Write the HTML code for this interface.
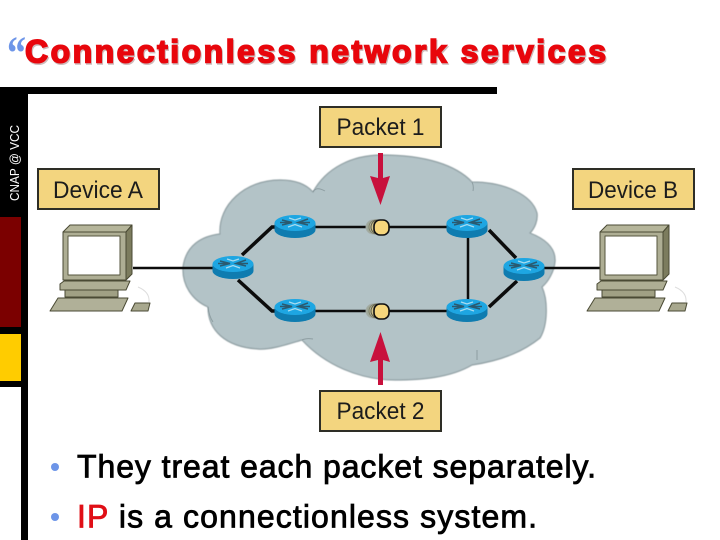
<!DOCTYPE html>
<html><head><meta charset="utf-8"><style>
html,body{margin:0;padding:0;background:#fff}
svg{display:block}
</style></head><body>
<svg width="720" height="540" viewBox="0 0 720 540" xmlns="http://www.w3.org/2000/svg" font-family="'Liberation Sans',sans-serif">
<defs>
<filter id="b" x="-5%" y="-5%" width="110%" height="110%"><feGaussianBlur stdDeviation="0.4"/></filter>
<g id="pc" stroke="#4a4a34" stroke-width="1" stroke-linejoin="round">
<path d="M63 232L70 225H132L126 232Z" fill="#b5b59a"/>
<path d="M126 232L132 225V274L126 280Z" fill="#7c7c5e"/>
<rect x="63" y="232" width="63" height="48" fill="#aeae94"/>
<rect x="68" y="236" width="52" height="39" fill="#fff" stroke="#55553e"/>
<path d="M60 284L64 281H130L126 290H60Z" fill="#aeae94"/>
<rect x="65" y="290" width="53" height="7" fill="#a0a084"/>
<path d="M50 311L58 298H128L122 311Z" fill="#b0b098"/>
<path d="M131 311L135 303H150L148 311Z" fill="#a8a88e"/>
<path d="M138 287Q150 292 149 302" fill="none" stroke="#ddd"/>
</g>
<g id="r">
<path d="M-20.500 -3V4A20.500 8 0 0 0 20.500 4V-3Z" fill="#0f7cb0"/>
<ellipse cx="0" cy="-3" rx="20.500" ry="8" fill="#1ea6e2"/>
<path d="M-13 -6L-3 -3.500L-13 -1M13 -7L3 -3.500L13 -1M-15 -3.500H-4M4 -3.500H15" stroke="#2a5a70" stroke-width="1.500" fill="none"/>
<path d="M-6 -8L0 -6L6 -8M-7 1L0 -1.500L7 1" stroke="#a8dcf0" stroke-width="1.200" fill="none"/>
</g>
<g id="pk">
<circle cx="-8" cy="0" r="7" fill="#9fa898" stroke="#a5ada8"/>
<circle cx="-5" cy="0" r="7" fill="#b9b99a" stroke="#80806a"/>
<circle cx="-3" cy="0" r="7" fill="#cfc28c" stroke="#5c5c48"/>
<rect x="-7" y="-7" width="15" height="15" rx="6" fill="#f6d67c" stroke="#111" stroke-width="1.600"/>
</g>
</defs>

<!-- frame -->
<rect x="0" y="87" width="497" height="7" fill="#000"/>
<rect x="0" y="94" width="28" height="293" fill="#000"/>
<rect x="21" y="387" width="7" height="153" fill="#000"/>
<rect x="0" y="217" width="21" height="110" fill="#7b0000"/>
<rect x="0" y="334" width="21" height="47" fill="#fc0"/>
<text transform="translate(19,201) rotate(-90)" font-size="13" fill="#fff" textLength="76" lengthAdjust="spacingAndGlyphs">CNAP @ VCC</text>

<!-- title -->
<text x="7" y="69" font-family="'Liberation Serif',serif" font-weight="bold" font-size="48" fill="#6d95e8" textLength="19" lengthAdjust="spacingAndGlyphs">“</text>
<text x="26" y="64" font-weight="bold" font-size="32" fill="#cdbcbc" stroke="#cdbcbc" stroke-width="1.600" textLength="581" lengthAdjust="spacing">Connectionless network services</text>
<text x="25" y="62.500" font-weight="bold" font-size="32" fill="#e8060c" stroke="#e8060c" stroke-width="1.600" textLength="581" lengthAdjust="spacing">Connectionless network services</text>

<!-- cloud -->
<path filter="url(#b)" d="M208 307C192 300 182 285 183 267C186 245 202 236 220 234C218 205 245 180 280 180C295 180 306 184 313 192C326 168 352 155 382 155C425 155 456 165 472 182C505 182 532 195 537 213C538 220 535 228 530 233C548 240 556 250 555 262C554 272 548 282 542 287C548 300 548 325 540 338C525 350 505 360 472 365C450 378 420 380 395 380C360 380 325 365 302 340C285 345 270 350 258 349C225 347 208 330 208 307Z" fill="#b3c3c7" stroke="#8e9ea2" stroke-width="1.200"/>
<path d="M313 192Q316 186 325 191M472 182Q474 186 473 191M208 307Q209 316 213 322M302 340Q306 338 313 339M477 350V360" fill="none" stroke="#8e9ea2"/>

<!-- links -->
<g stroke="#0c0c0c" fill="none">
<path d="M133 268H215M540 268H600" stroke-width="2.500"/>
<path d="M295 227H467M295 311H467M468 227V311" stroke-width="2.500"/>
<path d="M242 255L272 227H295M238 280L272 311H295M489 230L516 258M489 307L517 281" stroke-width="3.500"/>
</g>

<use href="#r" x="295" y="226"/>
<use href="#r" x="233" y="267"/>
<use href="#r" x="295" y="310"/>
<use href="#r" x="467" y="226"/>
<use href="#r" x="524" y="269"/>
<use href="#r" x="467" y="310"/>

<use href="#pk" x="381" y="227"/>
<use href="#pk" x="381" y="311"/>

<!-- arrows -->
<path d="M378 153H383V178L390 176L380.500 205L370 176L378 178Z" fill="#c8103c"/>
<path d="M378 385H383V360L390 362L380.500 332L370 362L378 360Z" fill="#c8103c"/>

<!-- computers -->
<use href="#pc"/>
<use href="#pc" x="537"/>

<!-- labels -->
<g fill="#f3d57f" stroke="#2e2e26" stroke-width="2">
<rect x="320" y="107" width="121" height="40"/>
<rect x="38" y="169" width="121" height="40"/>
<rect x="573" y="169" width="121" height="40"/>
<rect x="320" y="391" width="121" height="40"/>
</g>
<g font-size="24" fill="#1c1c1c" text-anchor="middle">
<text x="380.500" y="135" textLength="88" lengthAdjust="spacingAndGlyphs">Packet 1</text>
<text x="98" y="198" textLength="90" lengthAdjust="spacingAndGlyphs">Device A</text>
<text x="633" y="198" textLength="90" lengthAdjust="spacingAndGlyphs">Device B</text>
<text x="380.500" y="419" textLength="88" lengthAdjust="spacingAndGlyphs">Packet 2</text>
</g>

<!-- bullets -->
<circle cx="55" cy="467" r="4" fill="#6d95e8"/>
<circle cx="55" cy="517" r="4" fill="#6d95e8"/>
<text x="77" y="477.500" font-size="32" fill="#000" stroke="#000" stroke-width="0.800" textLength="519" lengthAdjust="spacing">They treat each packet separately.</text>
<text x="77" y="527.500" font-size="32" fill="#000" stroke="#000" stroke-width="0.800" textLength="460" lengthAdjust="spacing"><tspan fill="#e00f16" stroke="#e00f16">IP</tspan> is a connectionless system.</text>
</svg>
</body></html>
